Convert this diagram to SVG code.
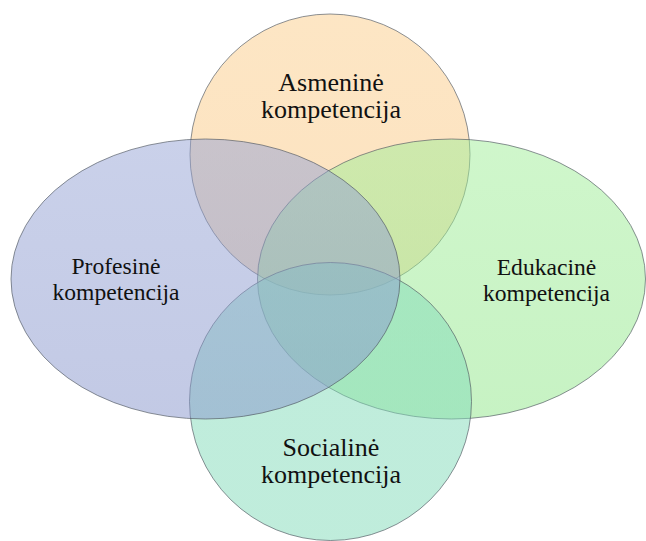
<svg xmlns="http://www.w3.org/2000/svg" width="646" height="541" viewBox="0 0 646 541">
<defs>
<linearGradient id="gO" x1="0" y1="0" x2="0" y2="1"><stop offset="0" stop-color="#fbcd8a"/><stop offset="1" stop-color="#f9c580"/></linearGradient>
<linearGradient id="gB" x1="0" y1="0" x2="0" y2="1"><stop offset="0" stop-color="#95a3d5"/><stop offset="1" stop-color="#8694cb"/></linearGradient>
<linearGradient id="gG" x1="0" y1="0" x2="0" y2="1"><stop offset="0" stop-color="#a0ee98"/><stop offset="1" stop-color="#8fe688"/></linearGradient>
<linearGradient id="gT" x1="0" y1="0" x2="0" y2="1"><stop offset="0" stop-color="#82dbb9"/><stop offset="1" stop-color="#80dab8"/></linearGradient>
</defs>
<style>
.c{stroke:#4f5660;stroke-opacity:0.65;stroke-width:1;fill-opacity:0.5}
.t{font-family:"Liberation Serif","Times New Roman",serif;fill:#111;text-anchor:middle}
.big{font-size:26px}
.sm{font-size:23.6px}
</style>
<rect width="646" height="541" fill="#ffffff"/>
<g id="asmenine">
<ellipse class="c" cx="330" cy="154.5" rx="140" ry="140.5" fill="url(#gO)"/>
</g>
<g id="edukacine">
<ellipse class="c" cx="451.5" cy="279" rx="194" ry="140" fill="url(#gG)"/>
</g>
<g id="socialine">
<ellipse class="c" cx="330.5" cy="401.5" rx="141" ry="139" fill="url(#gT)"/>
</g>
<g id="profesine">
<ellipse class="c" cx="205.5" cy="279" rx="194.5" ry="140" fill="url(#gB)"/>
</g>
<g id="labels">
<text class="t big" x="331" y="91">Asmeninė</text>
<text class="t big" x="331" y="118">kompetencija</text>
<text class="t sm" x="116" y="274">Profesinė</text>
<text class="t sm" x="116" y="300">kompetencija</text>
<text class="t sm" x="546.5" y="275">Edukacinė</text>
<text class="t sm" x="546.5" y="301">kompetencija</text>
<text class="t big" x="331" y="456">Socialinė</text>
<text class="t big" x="331" y="483">kompetencija</text>
</g>
<g id="connectors"></g>
</svg>
